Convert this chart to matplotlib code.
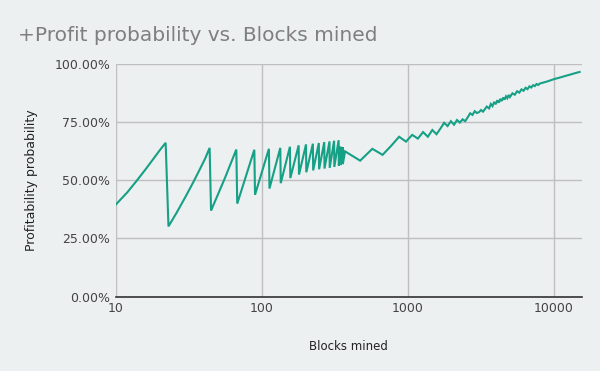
import matplotlib
matplotlib.use("Agg")
import matplotlib.pyplot as plt
from matplotlib.ticker import FixedLocator, FuncFormatter, NullLocator

# blocks mined (x) and probability of ending in profit (%)
blocks = [10, 12, 14, 16, 18, 20, 22,
          23, 26, 30, 34, 38, 41, 44,
          45, 56, 67,
          68, 89,
          90, 112,
          113, 134,
          135, 156,
          157, 179,
          180, 201,
          202, 224,
          225, 246,
          247, 268,
          269, 291,
          292, 313,
          314, 336,
          337, 347, 348, 358, 359, 372,
          472, 572, 672, 772, 872, 972, 1072, 1172, 1272, 1372, 1472, 1572,
          1672, 1772, 1872, 1972, 2072, 2172, 2272, 2372, 2472, 2572, 2672,
          2772, 2872, 2972, 3072, 3172, 3272, 3372, 3472,
          3600, 3700, 3800, 3900, 4000, 4100, 4200, 4300, 4400, 4500, 4600,
          4700, 4800, 4900, 5000, 5200, 5400, 5600, 5800, 6000, 6200, 6400,
          6600, 6800, 7000, 7200, 7400, 7600, 7800, 8000,
          9000, 10000, 11000, 12000, 13000, 14000, 15000]
profit_pct = [39.5, 44.8, 50.0, 54.7, 59.0, 62.9, 66.2,
              30.2, 35.8, 42.8, 49.2, 55.2, 59.4, 64.0,
              37.0, 51.0, 63.3,
              40.0, 63.2,
              43.8, 63.6,
              46.5, 64.0,
              48.8, 64.5,
              51.0, 65.1,
              52.5, 65.5,
              53.5, 65.8,
              54.3, 66.1,
              54.8, 66.5,
              55.1, 66.8,
              55.4, 67.1,
              55.8, 67.3,
              56.4, 64.5, 56.6, 64.3, 57.0, 62.5,
              58.5, 63.6, 61.0, 65.0, 68.8, 66.7, 69.6, 68.0, 70.8, 68.8, 71.7, 69.9,
              72.3, 74.8, 73.4, 75.5, 74.0, 76.0, 74.9, 76.3, 75.5, 77.2, 78.9,
              78.2, 79.8, 79.0, 79.4, 80.3, 79.6, 80.7, 81.8,
              81.0, 82.9, 82.0, 83.8, 82.8, 84.5, 83.5, 85.1, 84.2, 85.7, 84.8,
              86.2, 85.4, 86.8, 85.9, 87.5, 86.9, 88.4, 87.8, 89.2, 88.6, 89.9,
              89.3, 90.5, 90.0, 91.0, 90.6, 91.5, 91.1, 91.7,
              92.6, 93.6, 94.3, 95.0, 95.6, 96.2, 96.7]

x_ticks = [10, 100, 1000, 10000]
y_ticks = [0, 25, 50, 75, 100]

bg = "#ecf0f1"
teal = "#16a085"

fig = plt.figure(figsize=(6, 3.71), dpi=100, facecolor=bg)
ax = fig.add_axes([0.1927, 0.2008, 0.7768, 0.6259])
ax.set_facecolor(bg)

ax.plot(blocks, profit_pct, color=teal, linewidth=1.5, solid_joinstyle="miter")

ax.set_xscale("log")
ax.set_xlim(10, 15500)
ax.set_ylim(0, 100)
ax.xaxis.set_major_locator(FixedLocator(x_ticks))
ax.xaxis.set_minor_locator(NullLocator())
ax.xaxis.set_major_formatter(FuncFormatter(lambda v, p: f"{v:.0f}"))
ax.yaxis.set_major_locator(FixedLocator(y_ticks))
ax.yaxis.set_major_formatter(FuncFormatter(lambda v, p: f"{v:.2f}%"))

ax.grid(True, color="#bfbfbf", linewidth=1)
ax.set_axisbelow(True)
for s in ["top", "right", "left"]:
    ax.spines[s].set_visible(False)
ax.spines["bottom"].set_color("#333333")
ax.spines["bottom"].set_linewidth(1.2)
ax.tick_params(length=0, labelsize=9, labelcolor="#444444", pad=4)

ax.set_xlabel("Blocks mined", fontsize=8.5, color="#222222", labelpad=18)
ax.set_ylabel("Profitability probability", fontsize=9, color="#222222", labelpad=12)
fig.text(0.03, 0.905, "+Profit probability vs. Blocks mined", fontsize=14.5,
         color="#7f7f7f", va="center", ha="left")

fig.savefig("out.png", dpi=100, facecolor=bg)
